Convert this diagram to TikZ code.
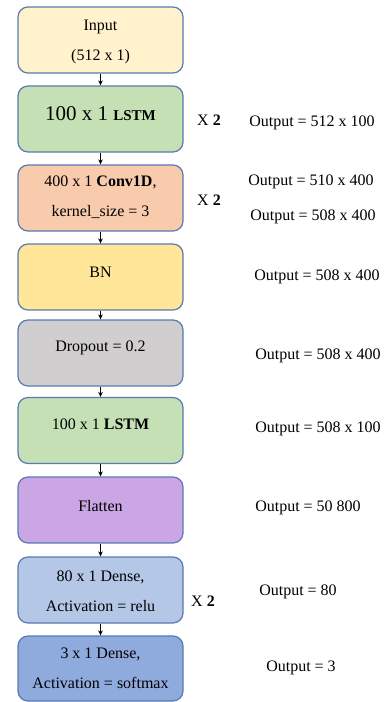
\documentclass[tikz,border=0pt]{standalone}
\usepackage{fontspec}
\setmainfont{Liberation Serif}
\usetikzlibrary{arrows.meta}
\definecolor{edgeblue}{HTML}{5A7AB0}
\definecolor{cInput}{HTML}{FFF2CC}
\definecolor{cLstm}{HTML}{C5E0B4}
\definecolor{cConv}{HTML}{F8CBAD}
\definecolor{cBn}{HTML}{FFE699}
\definecolor{cDrop}{HTML}{D0CECE}
\definecolor{cFlat}{HTML}{CBA6E4}
\definecolor{cDense}{HTML}{B4C7E7}
\definecolor{cOut}{HTML}{8FAADC}
\tikzset{
  layerbox/.style={draw=edgeblue, line width=1.2pt, rounded corners=10pt,
    minimum width=165pt, minimum height=66pt, inner sep=0pt},
  txt/.style={font=\fontsize{16}{30}\selectfont, align=center, inner sep=0pt},
  side/.style={font=\fontsize{16}{18}\selectfont, inner sep=0pt},
  arr/.style={line width=0.8pt, -{Stealth[length=5pt,width=4.5pt]}}
}
\begin{document}
\begin{tikzpicture}[x=1pt,y=-1pt]
\useasboundingbox (0,0) rectangle (384,702);
% layer boxes
\node[layerbox, fill=cInput] (input) at (100.5,40) {};
\node[layerbox, fill=cLstm]  (lstma) at (100.5,119) {};
\node[layerbox, fill=cConv]  (conv)  at (100.5,198) {};
\node[layerbox, fill=cBn]    (bn)    at (100.5,277) {};
\node[layerbox, fill=cDrop]  (drop)  at (100.5,353) {};
\node[layerbox, fill=cLstm]  (lstmb) at (100.5,430.5) {};
\node[layerbox, fill=cFlat]  (flat)  at (100.5,510) {};
\node[layerbox, fill=cDense] (densea) at (100.5,590) {};
\node[layerbox, fill=cOut, minimum height=65pt] (denseb) at (100.5,668.5) {};
% layer texts
\node[txt] (tinput) at (100.5,41.5) {Input\\(512 x 1)};
\node[txt, font=\fontsize{21}{24}\selectfont] (tlstma) at (100.5,114)
  {100 x 1 {\fontsize{15}{18}\selectfont\bfseries LSTM}};
\node[txt] (tconv) at (100.5,197) {400 x 1 \textbf{Conv1D},\\kernel\_size = 3};
\node[txt] (tbn) at (100.5,272) {BN};
\node[txt] (tdrop) at (100.5,348) {Dropout = 0.2};
\node[txt] (tlstmb) at (100.5,424) {100 x 1 \textbf{LSTM}};
\node[txt] (tflat) at (100.5,506) {Flatten};
\node[txt] (tdensea) at (100.5,591.5) {80 x 1 Dense,\\Activation = relu};
\node[txt] (tdenseb) at (100.5,668.5) {3 x 1 Dense,\\Activation = softmax};
% connectors
\draw[arr] (input) -- (lstma);
\draw[arr] (lstma) -- (conv);
\draw[arr] (conv) -- (bn);
\draw[arr] (bn) -- (drop);
\draw[arr] (drop) -- (lstmb);
\draw[arr] (lstmb) -- (flat);
\draw[arr] (flat) -- (densea);
\draw[arr] (densea) -- (denseb);
% repeat marks
\node[side] (rpa) at (209,120) {X \textbf{2}};
\node[side] (rpb) at (209,200) {X \textbf{2}};
\node[side] (rpc) at (203,601) {X \textbf{2}};
% output shapes
\node[side] (oa) at (312,123) {Output = 512 x 100};
\node[side] (ob) at (311,182) {Output = 510 x 400};
\node[side] (oc) at (313,217) {Output = 508 x 400};
\node[side] (od) at (317,277) {Output = 508 x 400};
\node[side] (oe) at (318,356) {Output = 508 x 400};
\node[side] (of) at (318,429) {Output = 508 x 100};
\node[side] (og) at (308,508) {Output = 50 800};
\node[side] (oh) at (298,592) {Output = 80};
\node[side] (oi) at (301,668) {Output = 3};
\end{tikzpicture}
\end{document}
